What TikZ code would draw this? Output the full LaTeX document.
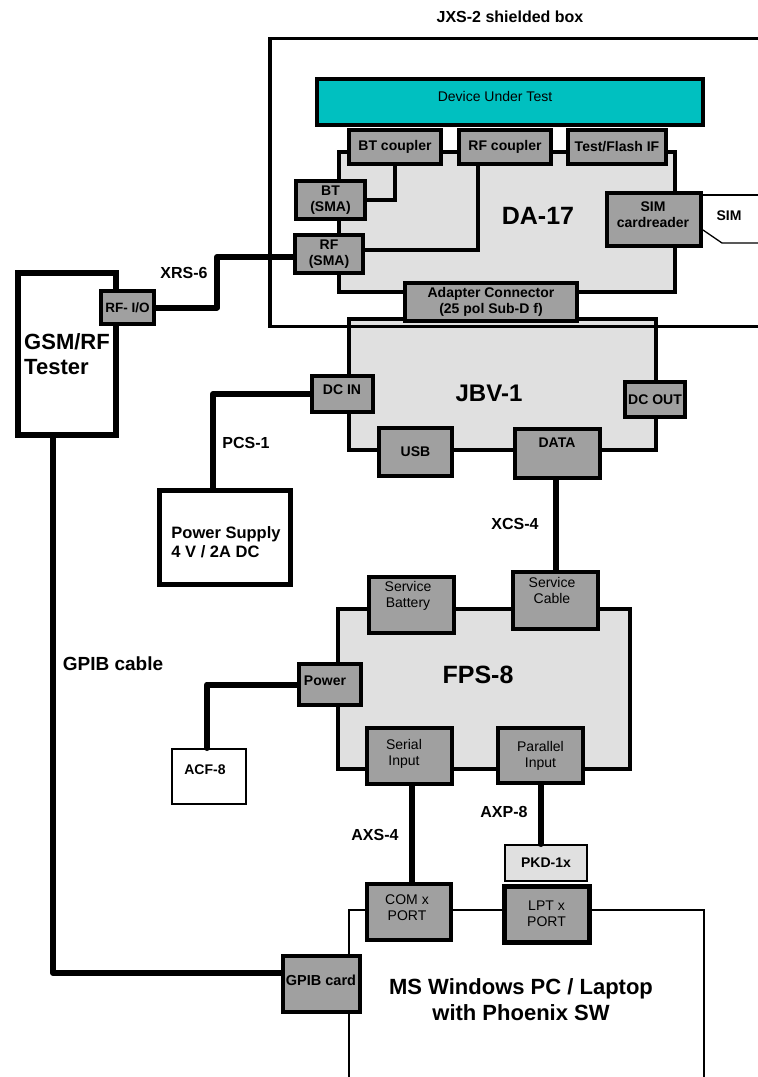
\documentclass[tikz,border=0pt]{standalone}
\usepackage{fontspec}
\setmainfont{Liberation Sans}
\definecolor{cgray}{HTML}{A0A0A0}
\definecolor{clight}{HTML}{E0E0E0}
\definecolor{cteal}{HTML}{00C0C0}
\begin{document}
\begin{tikzpicture}[x=1pt,y=-1pt,
  xbox/.style={draw, line width=4pt, inner sep=0pt, align=center},
  xconn/.style={xbox, fill=cgray, font=\bfseries\fontsize{14}{16}\selectfont},
  xconnr/.style={xbox, fill=cgray, font=\fontsize{14}{16}\selectfont},
  xunit/.style={xbox, fill=clight},
  xcable/.style={line width=6pt, line cap=round, line join=round},
  xwire/.style={line width=4pt},
  tb/.style 2 args={font=\bfseries\fontsize{#1}{#2}\selectfont, inner sep=0pt, align=center},
  tr/.style 2 args={font=\fontsize{#1}{#2}\selectfont, inner sep=0pt, align=center},
]
\useasboundingbox[fill=white] (0,0) rectangle (758,1077);

% title
\node[tb={16}{19}] (title) at (510,17) {JXS-2 shielded box};

% DA-17 adapter
\node[xunit, minimum width=336, minimum height=140] (da) at (507,222) {};
\node[tb={25}{28}] (daT) at (538,216) {DA-17};
\node[xbox, fill=cteal, minimum width=386, minimum height=46] (dut) at (510,102) {};
\node[tr={14}{16}] (dutT) at (495,96) {Device Under Test};
\node[xconn, minimum width=92, minimum height=34] (btc) at (395,147) {BT coupler};
\node[xconn, minimum width=92, minimum height=34] (rfc) at (505,147) {RF coupler};
\node[xconn, minimum width=98, minimum height=34] (tfi) at (617,147) {Test/Flash IF};
\node[xconn, minimum width=69, minimum height=38] (btsma) at (330.5,200) {BT\\(SMA)};
\node[xconn, minimum width=68, minimum height=38] (rfsma) at (329,254) {RF\\(SMA)};
\node[xconn, minimum width=94, minimum height=53] (simr) at (654,219.5) {};
\node[tb={14}{16}] (simrT) at (653,215) {SIM\\cardreader};

% SIM card outline
\draw[line width=1.3pt] (simr.north east |- 0,195) -- (765,195);
\draw[line width=1.3pt] (simr.north east |- 0,230) -- (722,243) -- (765,243);
\node[tb={14}{16}] (simT) at (729,216) {SIM};

% coupler wires
\draw[xwire] (btc.south) |- (btsma.east);
\coordinate (rfk) at (478,250);
\draw[xwire] (rfc.south -| rfk) -- (rfk) -- (rfk -| rfsma.east);

% JBV-1
\node[xunit, minimum width=307, minimum height=131] (jbv) at (502.5,384.5) {};
\node[tb={24}{27}] (jbvT) at (489,393) {JBV-1};

% shielded box
\draw[line width=3.5pt] (765,38.5) -- (270,38.5) -- (270,326.5) -- (765,326.5);

\node[xconn, minimum width=172, minimum height=38] (adc) at (491,302) {Adapter Connector\\(25 pol Sub-D f)};
\node[xconn, minimum width=61, minimum height=36] (dcin) at (342.5,394) {};
\node[tb={14}{16}] (dcinT) at (342,390) {DC IN};
\node[xconn, minimum width=60, minimum height=35] (dcout) at (655,399.5) {DC OUT};
\node[xconn, minimum width=73, minimum height=48] (usb) at (415.5,452) {USB};
\node[xconn, minimum width=85, minimum height=49] (data) at (557.5,453.5) {};
\node[tb={14}{16}] (dataT) at (557,443) {DATA};

% FPS-8
\node[xunit, minimum width=292, minimum height=160] (fps) at (484,689) {};
\node[tb={25}{28}] (fpsT) at (478,675) {FPS-8};
\node[xconnr, minimum width=85, minimum height=56] (svb) at (411.5,605) {};
\node[tr={14}{16}] (svbT) at (408,596) {Service\\Battery};
\node[xconnr, minimum width=85, minimum height=57] (svc) at (555.5,600.5) {};
\node[tr={14}{16}] (svcT) at (552,590.5) {Service\\Cable};
\node[xconn, minimum width=62, minimum height=41] (power) at (330,684.5) {};
\node[tb={14}{16}] (powerT) at (325,681) {Power};
\node[xconnr, minimum width=85, minimum height=56] (serial) at (409.5,756) {};
\node[tr={14}{16}] (serialT) at (404,754) {Serial\\Input};
\node[xconnr, minimum width=85, minimum height=55] (parallel) at (540.5,755.5) {Parallel\\Input};

\node[xbox, line width=2pt, fill=white, minimum width=74, minimum height=55] (acf) at (209,776.5) {};
\node[tb={14}{16}] (acfT) at (205,770) {ACF-8};

% power supply and tester
\node[xbox, line width=5pt, fill=white, minimum width=131, minimum height=94] (psu) at (225,537.5) {};
\node[tb={16.5}{19}, align=left] (psuT) at (226,542) {Power Supply\\4 V / 2A DC};
\node[xbox, line width=6pt, fill=white, minimum width=98, minimum height=162,
      font=\bfseries\fontsize{22}{25}\selectfont, align=left] (tester) at (67,354) {GSM/RF\\Tester};
\node[xconn, minimum width=53, minimum height=33, font=\bfseries\fontsize{13.5}{16}\selectfont] (rfio) at (127.5,307.5) {RF- I/O};

% PC
\node[xbox, line width=2pt, fill=white, minimum width=355, minimum height=185] (pc) at (526.5,1002.5) {};
\node[tb={22}{26}] (pcT) at (521,1000) {MS Windows PC / Laptop\\with Phoenix SW};
\node[xbox, line width=2pt, fill=clight, minimum width=82, minimum height=36, font=\bfseries\fontsize{14}{16}\selectfont] (pkd) at (546,863) {PKD-1x};
\node[xconnr, minimum width=84, minimum height=56] (com) at (409,912) {};
\node[tr={14}{16}] (comT) at (407,908) {COM x\\PORT};
\node[xconnr, line width=5pt, minimum width=85, minimum height=56] (lpt) at (546.5,914) {LPT x\\PORT};
\node[xconn, minimum width=77, minimum height=56] (gpib) at (321.5,984) {};
\node[tb={14.5}{16}] (gpibT) at (321,980) {GPIB card};

% cables
\coordinate (xr) at (217,257);
\draw[xcable] (rfio.east) -| (xr) -- (xr -| rfsma.west);
\coordinate (pcs) at (213,394);
\draw[xcable] (dcin.west) -- (pcs) -- (pcs |- psu.north);
\draw[xcable] (svc.north |- data.south) -- (svc.north);
\coordinate (pa) at (207,684.5);
\draw[xcable] (power.west) -- (pa) -- (pa |- acf.north);
\draw[xcable] ([xshift=2.5pt]serial.south) -- ([xshift=2.5pt]serial.south |- com.north);
\draw[xcable] (parallel.south) -- (parallel.south |- pkd.north);
\coordinate (gp) at (53,973);
\draw[xcable] (tester.south -| gp) -- (gp) -- (gp -| gpib.west);

% cable labels
\node[tb={16}{19}] (lxrs) at (184,273) {XRS-6};
\node[tb={16}{19}] (lpcs) at (246,443) {PCS-1};
\node[tb={16}{19}] (lxcs) at (515,524) {XCS-4};
\node[tb={16}{19}] (laxs) at (375,835) {AXS-4};
\node[tb={16}{19}] (laxp) at (504,812) {AXP-8};
\node[tb={19}{22}] (lgpib) at (113,664) {GPIB cable};
\end{tikzpicture}
\end{document}
